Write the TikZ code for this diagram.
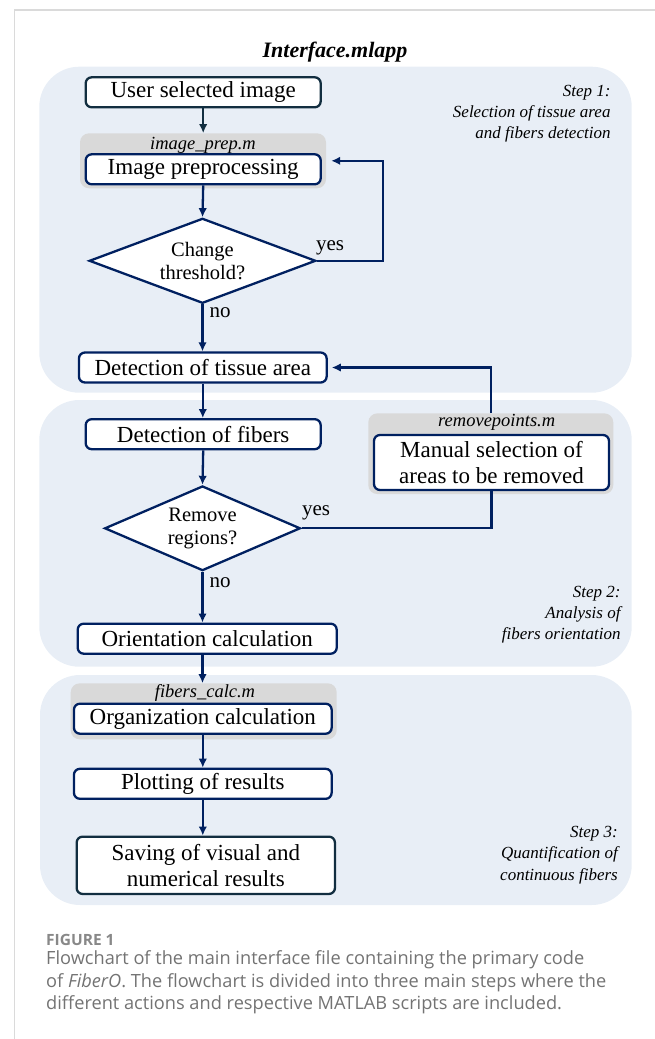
\documentclass[tikz,border=0pt]{standalone}
\usepackage{fontspec}
\setmainfont{Liberation Serif}
\newfontfamily\capfont{Open Sans}
\usetikzlibrary{arrows.meta,shapes.geometric}

\definecolor{panelblue}{RGB}{232,238,246}
\definecolor{scriptgray}{RGB}{217,217,217}
\definecolor{boxnavy}{RGB}{0,32,96}
\definecolor{boxslate}{RGB}{18,46,64}
\definecolor{capgray}{RGB}{115,115,115}
\definecolor{rulegray}{RGB}{218,218,218}

\begin{document}
\begin{tikzpicture}[x=1pt,y=-1pt,
    panel/.style={fill=panelblue,rounded corners=40pt},
    script/.style={fill=scriptgray,rounded corners=9pt,inner sep=0pt},
    scriptname/.style={font=\fontsize{18.5}{18}\selectfont\itshape,inner sep=0pt},
    proc/.style={draw=boxnavy,line width=2.3pt,fill=white,rounded corners=6pt,inner sep=0pt,
      align=center,minimum height=30pt,font=\fontsize{23}{25.7}\selectfont},
    decision/.style={diamond,draw=boxnavy,line width=2.3pt,fill=white,inner sep=0pt,
      align=center,font=\fontsize{20.5}{23.3}\selectfont},
    flow/.style={draw=boxnavy,line width=2.3pt,-{Latex[length=9pt,width=8.5pt]}},
    answer/.style={font=\fontsize{21}{20}\selectfont,inner sep=0pt},
    steptext/.style={font=\fontsize{17}{21.2}\selectfont\itshape,align=right,inner sep=0pt,anchor=east},
    caption/.style={font=\capfont\fontsize{18.2}{20}\selectfont,text=capgray,inner sep=0pt,anchor=west},
  ]
  \useasboundingbox (0,0) rectangle (655,1039);
  % page rules
  \draw[rulegray,line width=1.5pt] (655,10) -- (14.3,10) -- (14.3,1039);

  \node[font=\fontsize{22}{22}\selectfont\bfseries\itshape] (title) at (335,52) {Interface.mlapp};

  % step panels
  \fill[panel] (39.3,66.7) rectangle (631.7,392.7);
  \fill[panel] (39.3,400) rectangle (631.7,666.7);
  \fill[panel] (40,675) rectangle (631.7,905);

  \node[steptext] (step1) at (610.7,113.8) {Step 1:\\Selection of tissue area\\and fibers detection};
  \node[steptext] (step2) at (620.7,614.5) {Step 2:\\Analysis of\\fibers orientation};
  \node[steptext] (step3) at (618,855) {Step 3:\\Quantification of\\continuous fibers};

  % matlab scripts
  \node[script,minimum width=246pt,minimum height=55pt] (prepbg) at (203,160.8) {};
  \node[scriptname] (prepname) at (203,145.2) {image\_prep.m};
  \node[script,minimum width=245pt,minimum height=80.7pt] (rpbg) at (490.8,453.7) {};
  \node[scriptname] (rpname) at (496.7,422.8) {removepoints.m};
  \node[script,minimum width=266pt,minimum height=56pt] (calcbg) at (203.7,711.3) {};
  \node[scriptname] (calcname) at (205,692.8) {fibers\_calc.m};

  % flowchart
  \node[proc,draw=boxslate,minimum width=235pt] (user) at (203.2,92.3) {User selected image};
  \node[proc,minimum width=235pt] (prep) at (203.2,169.3) {Image preprocessing};
  \node[decision,minimum width=226.6pt,minimum height=85pt,aspect=2.66] (thresh) at (202.5,260.8) {Change\\threshold?};
  \node[proc,minimum width=247.7pt] (tissue) at (202.8,367.5) {Detection of tissue area};
  \node[proc,minimum width=235pt] (fibers) at (203.2,434.2) {Detection of fibers};
  \node[decision,minimum width=195.7pt,minimum height=84.7pt,aspect=2.3] (regions) at (202.5,528.3) {Remove\\regions?};
  \node[proc,minimum width=235pt,minimum height=55pt] (manual) at (491.5,462.5) {Manual selection of\\areas to be removed};
  \node[proc,minimum width=259pt] (orient) at (207.2,638.7) {Orientation calculation};
  \node[proc,minimum width=257.7pt] (organiz) at (202.8,718.7) {Organization calculation};
  \node[proc,minimum width=257.7pt] (plot) at (202.8,783.8) {Plotting of results};
  \node[proc,draw=boxslate,minimum width=258.3pt,minimum height=57.3pt] (save) at (205.8,865.3) {Saving of visual and\\numerical results};

  \coordinate (loop1) at (383.3,260.8);

  \draw[flow,draw=boxslate] (user.south) -- (user.south |- prepbg.north);
  \draw[flow] (prep.south) -- (thresh.north);
  \draw[flow] (thresh.south) -- (thresh.south |- tissue.north);
  \draw[flow,shorten >=5pt] (thresh.east) -- (loop1) |- (prepbg.east);
  \draw[flow] (tissue.south) -- (tissue.south |- fibers.north);
  \draw[flow] (fibers.south) -- (regions.north);
  \draw[flow] (regions.south) -- (regions.south |- orient.north);
  \draw[boxnavy,line width=2.3pt] (regions.east) -| (manual.south);
  \draw[flow,shorten >=4pt] (rpbg.north) |- (tissue.east);
  \draw[flow] (regions.south |- orient.south) -- (regions.south |- calcbg.north);
  \draw[flow] (organiz.south) -- (organiz.south |- plot.north);
  \draw[flow] (plot.south) -- (plot.south |- save.north);

  \node[answer] (yes1) at (330,248) {yes};
  \node[answer] (no1) at (220,313) {no};
  \node[answer] (yes2) at (316,512.7) {yes};
  \node[answer] (no2) at (220,582.3) {no};

  % caption
  \node[caption,font=\capfont\bfseries\fontsize{15.5}{16}\selectfont,text=capgray!85] (figno) at (46,940) {FIGURE 1};
  \node[caption] (cap1) at (46,960) {Flowchart of the main interface file containing the primary code};
  \node[caption] (cap2) at (46,982.3) {of \textit{FiberO}. The flowchart is divided into three main steps where the};
  \node[caption] (cap3) at (46,1004.6) {different actions and respective MATLAB scripts are included.};
\end{tikzpicture}
\end{document}
